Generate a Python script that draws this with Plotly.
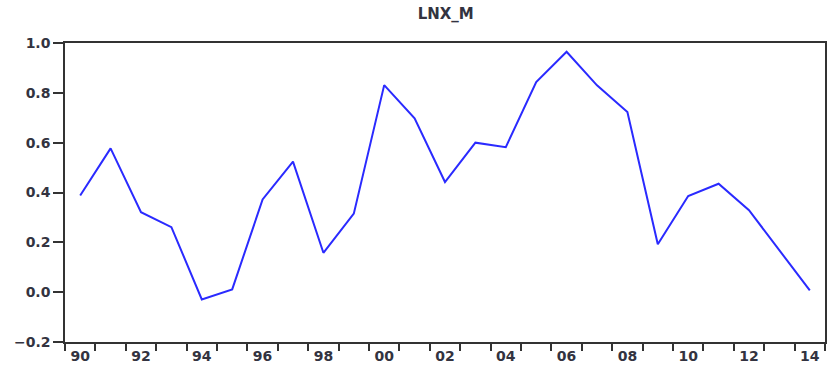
import plotly.graph_objects as go

years = list(range(1990, 2015))
values = [0.388, 0.577, 0.321, 0.261, -0.029, 0.011, 0.372, 0.524, 0.158, 0.315,
          0.831, 0.698, 0.442, 0.600, 0.582, 0.843, 0.965, 0.830, 0.723, 0.192,
          0.386, 0.435, 0.329, 0.169, 0.007]
label_years = list(range(1990, 2015, 2))
label_text = [f"{y % 100:02d}" for y in label_years]
y_ticks = [-0.2, 0.0, 0.2, 0.4, 0.6, 0.8, 1.0]

fig = go.Figure()
fig.add_trace(go.Scatter(x=years, y=values, mode="lines",
                         line=dict(color="#2a2aff", width=2), showlegend=False))

axis_color = "#333333"
tfont = dict(family="DejaVu Sans, Liberation Sans, sans-serif", size=14,
             color="#333340", weight="bold")
fig.update_layout(
    width=830, height=369,
    margin=dict(l=65, r=3, t=43, b=27),
    paper_bgcolor="white", plot_bgcolor="white",
    font=tfont,
    title=dict(text="LNX_M", x=0.537, xanchor="center", y=0.962, yanchor="middle",
               font=dict(family=tfont["family"], size=15, color="#333340", weight="bold")),
)
fig.update_xaxes(
    range=[1989.5, 2014.5], tickvals=label_years, ticktext=label_text,
    ticks="", showgrid=False, zeroline=False,
    showline=True, linecolor=axis_color, linewidth=1.5, mirror=True,
    minor=dict(ticks="outside", tick0=1989.5, dtick=1, ticklen=7, tickwidth=1.5,
               tickcolor=axis_color, showgrid=False),
    tickfont=tfont,
)
fig.update_yaxes(
    range=[-0.2, 1.0], tickvals=y_ticks, tickformat=".1f",
    ticks="outside", ticklen=10, tickwidth=1.5, tickcolor=axis_color,
    showgrid=False, zeroline=False,
    showline=True, linecolor=axis_color, linewidth=1.5, mirror=True,
    tickfont=tfont,
)

fig.write_html("out.html")
